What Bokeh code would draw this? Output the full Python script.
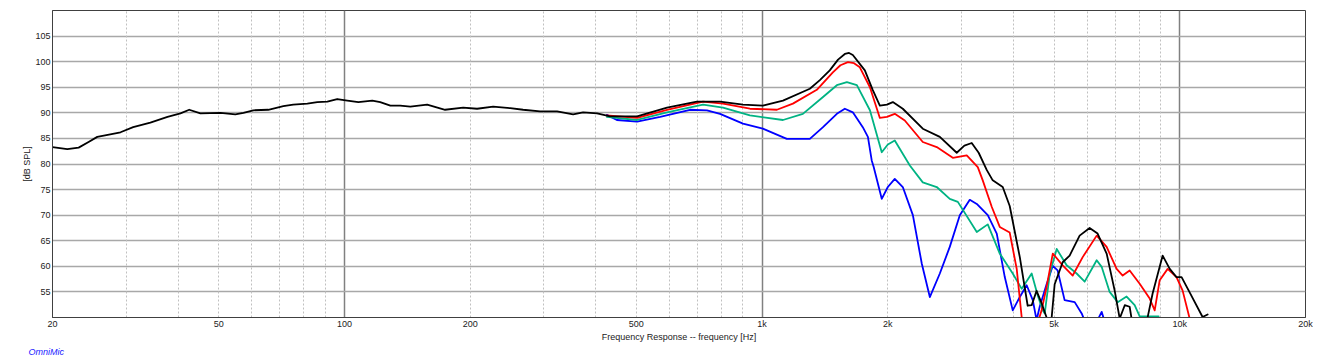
from bokeh.plotting import figure
from bokeh.models import Range1d, FixedTicker, Grid, Title
from bokeh.embed import file_html
from bokeh.resources import INLINE

# ---- data (frequency in Hz, level in dB SPL) ----
black_f = [20, 21.7, 23.1, 24.4, 25.6, 27.5, 29.1, 31.2, 34.3, 37.7, 40.5, 42.5, 45.2, 50.5, 54.8, 57.3,
           60.5, 65.7, 71.4, 75.4, 81.5, 86.1, 91, 96.1, 101.6, 108, 116.6, 121.8, 128.8, 136, 143.8,
           157.8, 174.2, 192.4, 207.8, 227, 249.4, 267.8, 294, 323, 352.8, 372.7, 402.6, 432.6, 502,
           592, 698, 793, 900, 1004, 1122, 1301, 1375, 1452, 1520, 1578, 1615, 1649, 1762, 1840, 1914, 1990, 2056, 2172, 2425, 2664,
           2924, 3050, 3176, 3300, 3452, 3566, 3768, 3916, 4140, 4324, 4420, 4541, 4669, 4799, 4885, 5017, 5244,
           5449, 5758, 6084, 6357, 6682, 6983, 7181, 7384, 7586, 7800, 8200, 8400, 8610, 9100, 9462,
           9820, 10100, 10545, 11340, 11660]
black_db = [83.3, 82.9, 83.2, 84.3, 85.3, 85.8, 86.2, 87.2, 88.1, 89.2, 89.9, 90.6, 89.9, 90.0, 89.7, 90.0,
            90.5, 90.6, 91.3, 91.6, 91.8, 92.1, 92.2, 92.7, 92.4, 92.1, 92.4, 92.1, 91.4, 91.4, 91.2,
            91.6, 90.6, 91.0, 90.8, 91.2, 90.9, 90.6, 90.3, 90.3, 89.7, 90.1, 89.9, 89.3, 89.3,
            91.0, 92.2, 92.2, 91.6, 91.4, 92.4, 94.7, 96.4, 98.3, 100.4, 101.5, 101.7, 101.3, 98.3, 94.5, 91.4, 91.6, 92.1, 90.8, 86.9, 85.3,
            82.2, 83.6, 84.1, 82.2, 78.8, 76.8, 75.5, 71.8, 61.8, 52.3, 52.4, 55.2, 52.8, 50.0, 46.0, 56.5, 60.8,
            62.1, 66.0, 67.5, 66.4, 62.5, 55.3, 49.8, 52.4, 52.1, 46.0, 46.0, 50.5, 54.7, 62.1, 59.5,
            57.9, 57.9, 55.0, 50.1, 50.6]

red_f = [425, 502, 592, 722, 806, 935, 1085, 1185, 1352, 1477, 1540, 1605, 1660, 1714, 1812, 1914, 1990, 2078, 2196,
         2425, 2619, 2861, 3090, 3284, 3375, 3548, 3707, 3916, 4070, 4184, 4373, 4669, 4799, 4966,
         5244, 5542, 5855, 6325, 6682, 7061, 7300, 7586, 8017, 8472, 8709, 8953, 9354, 9820, 10155, 10545]
red_db = [89.5, 89.0, 90.6, 92.2, 91.8, 90.8, 90.6, 91.8, 94.5, 97.9, 99.3, 99.9, 99.7, 98.9, 95.0, 89.0, 89.2, 89.8, 88.5,
          84.3, 83.3, 81.2, 81.7, 79.4, 76.8, 71.6, 67.7, 66.6, 59.5, 50.0, 44.0, 51.4, 56.0, 62.5,
          60.2, 58.2, 61.8, 66.0, 63.8, 59.5, 58.2, 59.2, 56.6, 53.7, 51.4, 57.3, 59.5, 57.9, 55.3, 50.0]

green_f = [425, 502, 592, 722, 806, 935, 1122, 1252, 1399, 1510, 1596, 1686, 1812, 1934, 2000, 2078, 2258,
           2425, 2619, 2814, 2942, 3266, 3470, 3707, 3982, 4184, 4420, 4570, 4698, 4750, 4885, 5074,
           5360, 5664, 5920, 6325, 6501, 6794, 7101, 7460, 7798, 8017, 8333, 8900]
green_db = [89.2, 88.6, 90.1, 91.6, 91.0, 89.5, 88.6, 89.8, 93.1, 95.4, 96.0, 95.4, 90.5, 82.3, 83.8, 84.6, 79.7,
            76.4, 75.5, 73.2, 72.6, 66.7, 68.2, 62.5, 58.6, 55.6, 58.6, 54.3, 51.4, 50.8, 58.6, 63.4,
            60.2, 58.6, 57.0, 61.2, 59.9, 55.0, 53.0, 54.1, 52.4, 50.2, 50.2, 50.2]

blue_f = [425, 449, 502, 570, 672, 738, 793, 900, 1004, 1146, 1301, 1399, 1510, 1578, 1649, 1742, 1792,
          1830, 1850, 1934, 2000, 2078, 2172, 2296, 2412, 2521, 2664, 2814, 2974, 3142, 3266, 3470,
          3646, 3811, 3982, 4140, 4300, 4447, 4541, 4620, 4799, 4966, 5100, 5300, 5603, 5823, 6084,
          6357, 6501, 6682]
blue_db = [89.6, 88.6, 88.3, 89.2, 90.6, 90.5, 89.8, 87.9, 86.9, 84.9, 84.9, 87.2, 89.8, 90.8, 90.1, 87.2, 85.3,
           80.7, 79.4, 73.2, 75.5, 77.1, 75.5, 70.0, 60.5, 54.0, 58.6, 63.8, 70.0, 73.0, 72.2, 70.0,
           66.4, 57.9, 51.4, 54.0, 56.3, 53.4, 49.5, 52.1, 56.5, 60.1, 59.2, 53.4, 53.0, 50.8, 47.0,
           49.5, 51.1, 48.0]

x_ticks = [20, 50, 100, 200, 500, 1000, 2000, 5000, 10000, 20000]
x_labels = ["20", "50", "100", "200", "500", "1k", "2k", "5k", "10k", "20k"]
x_major_grid = [100, 1000, 10000]
x_minor_grid = [30, 40, 50, 60, 70, 80, 90, 200, 300, 400, 500, 600, 700, 800, 900,
                2000, 3000, 4000, 5000, 6000, 7000, 8000, 9000]
y_ticks = [55, 60, 65, 70, 75, 80, 85, 90, 95, 100, 105]

FONT = "Liberation Sans"

p = figure(x_axis_type="log", x_range=Range1d(20, 20000), y_range=Range1d(50, 110),
           frame_width=1253, frame_height=307, output_backend="svg", toolbar_location=None,
           min_border_left=52, min_border_right=8, min_border_top=10, min_border_bottom=36,
           background_fill_color="white", border_fill_color="white")

p.outline_line_color = "#404040"
p.outline_line_width = 1

# axes
p.xaxis.ticker = FixedTicker(ticks=x_ticks)
p.xaxis.major_label_overrides = {t: l for t, l in zip(x_ticks, x_labels)}
p.yaxis.ticker = FixedTicker(ticks=y_ticks)
for ax in (p.xaxis, p.yaxis):
    ax.major_tick_line_color = None
    ax.minor_tick_line_color = None
    ax.major_tick_out = 0
    ax.major_tick_in = 0
    ax.minor_tick_out = 0
    ax.minor_tick_in = 0
    ax.axis_line_color = "#404040"
    ax.major_label_text_font = FONT
    ax.major_label_text_font_size = "9px"
    ax.major_label_text_color = "#222222"
    ax.axis_label_text_font = FONT
    ax.axis_label_text_font_size = "9px"
    ax.axis_label_text_font_style = "normal"
    ax.axis_label_text_color = "#222222"
p.xaxis.axis_label = "Frequency Response -- frequency [Hz]"
p.yaxis.axis_label = "[dB SPL]"
p.xaxis.major_label_standoff = 1
p.xaxis.axis_label_standoff = 0
p.yaxis.major_label_standoff = 2
p.yaxis.axis_label_standoff = 0

# grids
p.ygrid.grid_line_color = "#a8a8a8"
p.ygrid.grid_line_width = 1.5
p.xgrid.ticker = FixedTicker(ticks=x_major_grid)
p.xgrid.grid_line_color = "#808080"
p.xgrid.grid_line_width = 1.5
minor = Grid(dimension=0, ticker=FixedTicker(ticks=x_minor_grid),
             grid_line_color="#c0c0c0", grid_line_dash="2 2", grid_line_width=1)
p.add_layout(minor)

# curves
for fx, db, col in ((blue_f, blue_db, "#0000ff"), (green_f, green_db, "#00b383"),
                    (red_f, red_db, "#ff0000"), (black_f, black_db, "#000000")):
    p.line(fx, db, line_color=col, line_width=1.8, line_join="round", line_cap="round")

p.add_layout(Title(text="OmniMic", align="left", offset=-24, standoff=0,
                   text_font=FONT, text_font_size="9px", text_font_style="italic",
                   text_color="#2020ff"), "below")

open("out.html", "w").write(file_html(p, INLINE))
